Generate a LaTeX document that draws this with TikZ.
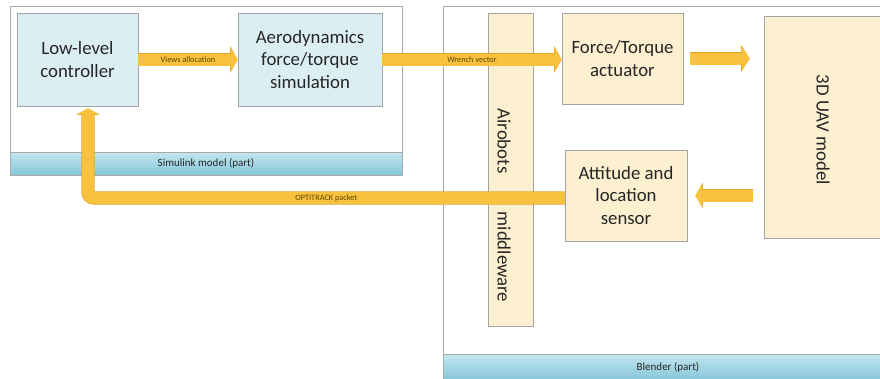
\documentclass[tikz,border=0pt]{standalone}
\usepackage{fontspec}
\setmainfont{Carlito}
\usetikzlibrary{arrows.meta,calc}

\definecolor{boxblue}{HTML}{DBEEF4}
\definecolor{boxbeige}{HTML}{FDF0D0}
\definecolor{boxedge}{HTML}{A3A3A3}
\definecolor{frameedge}{HTML}{A8A8A8}
\definecolor{bandtop}{HTML}{C3E6F0}
\definecolor{bandbot}{HTML}{86C6D9}
\definecolor{arrowfill}{HTML}{F9C23E}
\definecolor{arrowedge}{HTML}{DDA42A}
\definecolor{txt}{HTML}{262626}
\definecolor{arrowtxt}{HTML}{5C4500}

\begin{document}
\begin{tikzpicture}[x=1pt,y=-1pt,
  frame/.style={draw=frameedge, fill=white, line width=0.8pt, inner sep=0pt},
  band/.style={draw=frameedge, line width=0.6pt, top color=bandtop, bottom color=bandbot,
    font=\fontsize{11}{13}\selectfont, text=txt, inner sep=0pt},
  block/.style={draw=boxedge, line width=0.7pt, inner sep=0pt, align=center,
    font=\fontsize{18.8}{22.5}\selectfont, text=txt},
  blueblock/.style={block, fill=boxblue},
  beigeblock/.style={block, fill=boxbeige},
  vtext/.style={rotate=-90, font=\fontsize{18.8}{22.5}\selectfont, text=txt, inner sep=0pt},
  blockarrow/.style n args={2}{line width=12pt, draw=arrowfill,
    -{Triangle[length=#1,width=#2]},
    preaction={draw=arrowedge, line width=13.2pt, -{Triangle[length=#1+0.6pt,width=#2+1.6pt]}}},
  arrowlabel/.style={font=\fontsize{8.3}{9}\selectfont, text=arrowtxt, inner sep=0pt}
]
\useasboundingbox (0,0) rectangle (880,378);

% Simulink side
\node[frame, minimum width=392pt, minimum height=169pt] (simframe) at (206,90.5) {};
\node[band, minimum width=392pt, minimum height=23pt] (simband) at (206,163.5) {Simulink model (part)};
\node[blueblock, minimum width=121pt, minimum height=93pt] (ctrl) at (77.5,59.5) {Low-level\\controller};
\node[blueblock, minimum width=144pt, minimum height=93pt] (aero) at (310,59.5) {Aerodynamics\\force/torque\\simulation};

% Blender side
\node[frame, minimum width=450pt, minimum height=390pt] (blframe) at (668,201) {};
\node[band, minimum width=450pt, minimum height=26pt] (blband) at (668,367) {Blender (part)};
\node[beigeblock, minimum width=45pt, minimum height=313pt] (mw) at (510.5,169.5) {};
\node[vtext] (mwtop) at (504,141) {Airobots};
\node[vtext] (mwbot) at (504,257) {middleware};
\node[beigeblock, minimum width=121pt, minimum height=91pt] (act) at (622.5,58.5) {Force/Torque\\actuator};
\node[beigeblock, minimum width=122pt, minimum height=91pt] (sens) at (626,195.5) {Attitude and\\location\\sensor};
\node[beigeblock, minimum width=118pt, minimum height=222pt] (uav) at (823,127) {};
\node[vtext] (uavtxt) at (823,130) {3D UAV model};

% Data flow
\draw[blockarrow={7pt}{25pt}] (ctrl.east) -- (aero.west)
  node[midway, arrowlabel] {Views allocation};
\draw[blockarrow={7pt}{25pt}] (aero.east) -- (aero.east -| act.west)
  node[midway, arrowlabel] {Wrench vector};
\draw[blockarrow={8pt}{25pt}] ($(act.east)+(7,0)$) -- ($(act.east -| uav.west)+(-14,0)$);
\draw[blockarrow={7pt}{24pt}] ($(sens.east -| uav.west)+(-11,0)$) -- ($(sens.east)+(8,0)$);
\draw[blockarrow={6pt}{22pt}, rounded corners=6pt] ($(sens.west)+(0,2.5)$) -| ($(ctrl.south)+(10.5,2)$)
  node[pos=0.25, arrowlabel] {OPTITRACK packet};
\end{tikzpicture}
\end{document}
